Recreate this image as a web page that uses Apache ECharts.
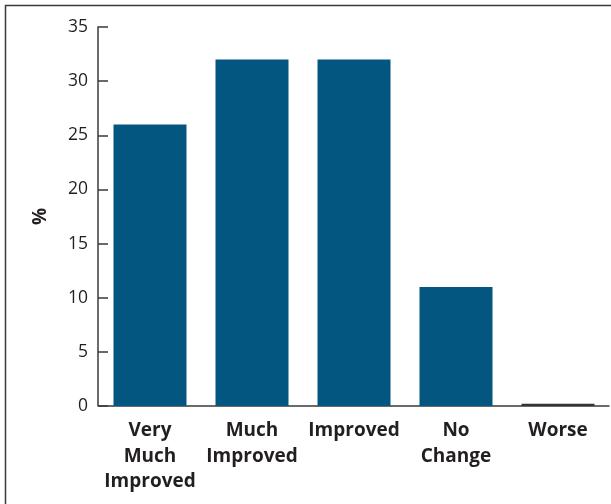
<!DOCTYPE html>
<html>
<head>
<meta charset="utf-8">
<script src="https://cdn.jsdelivr.net/npm/echarts@6/dist/echarts.min.js"></script>
<style>
html,body{margin:0;padding:0;background:#fff;}
#chart{width:611px;height:504px;}
</style>
</head>
<body>
<div id="chart"></div>
<script>
var categories = ['Very\nMuch\nImproved', 'Much\nImproved', 'Improved', 'No\nChange', 'Worse'];
var values = [26, 32, 32, 11, 0.2];
var yTicks = [0, 5, 10, 15, 20, 25, 30, 35];

var chart = echarts.init(document.getElementById('chart'));
chart.setOption({
  animation: false,
  backgroundColor: '#fff',
  graphic: [{
    type: 'rect',
    shape: {x: 5.5, y: 5.5, width: 640, height: 540},
    style: {fill: 'none', stroke: '#3a3a3a', lineWidth: 1.5},
    silent: true
  }],
  grid: {left: 99, top: 27, width: 510, height: 379},
  xAxis: {
    type: 'category',
    data: categories,
    axisLine: {lineStyle: {color: '#3a3a3a', width: 1.5}},
    axisTick: {show: false},
    axisLabel: {
      color: '#231f20', fontFamily: 'Open Sans', fontWeight: 'bold', fontSize: 19,
      lineHeight: 25.5, margin: 12, interval: 0
    }
  },
  yAxis: {
    type: 'value',
    min: 0, max: 35, interval: 5,
    offset: 1,
    name: '%',
    nameLocation: 'middle',
    nameGap: 48,
    nameRotate: 90,
    nameTextStyle: {color: '#231f20', fontFamily: 'Open Sans', fontWeight: 'bold', fontSize: 19},
    axisLine: {show: true, lineStyle: {color: '#3a3a3a', width: 1.5}},
    axisTick: {show: true, inside: true, length: 10, lineStyle: {color: '#3a3a3a', width: 1.5}},
    splitLine: {show: false},
    axisLabel: {
      color: '#231f20', fontFamily: 'Open Sans', fontSize: 17.5, margin: 10,
      formatter: function (v) { return yTicks.indexOf(v) >= 0 ? String(v) : ''; }
    }
  },
  series: [{
    type: 'bar',
    data: values.map(function (v, i) {
      return i === 4 ? {value: v, itemStyle: {color: '#333333'}} : v;
    }),
    barWidth: 73,
    itemStyle: {color: '#02567f'}
  }]
});
</script>
</body>
</html>
